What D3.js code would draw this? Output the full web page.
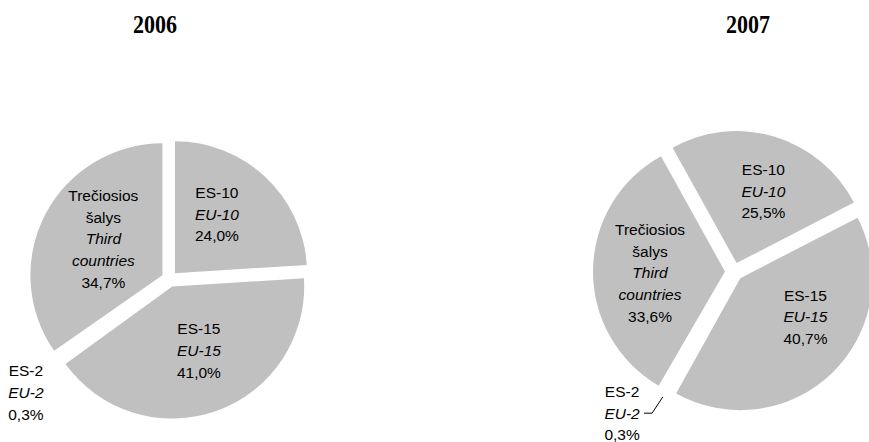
<!DOCTYPE html>
<html>
<head>
<meta charset="utf-8">
<script src="https://cdn.jsdelivr.net/npm/d3@7/dist/d3.min.js"></script>
<style>
  body { margin: 0; background: #fff; }
  .lbl { font-family: "Liberation Sans", Arial, sans-serif; font-size: 15.5px; fill: #000; }
  .title { font-family: "Liberation Serif", "Times New Roman", serif; font-weight: bold; font-size: 25px; fill: #000; }
</style>
</head>
<body>
<div id="chart"></div>
<script>
// data
var years = ["2006", "2007"];
var namesLt = ["ES-10", "ES-15", "ES-2", "Trečiosios šalys"];
var namesEn = ["EU-10", "EU-15", "EU-2", "Third countries"];
var values2006 = [24.0, 41.0, 0.3, 34.7];
var values2007 = [25.5, 40.7, 0.3, 33.6];

var width = 869, height = 442;

var svg = d3.select("#chart").append("svg")
    .attr("width", width)
    .attr("height", height);

var fmt = function(v) { return d3.format(".1f")(v).replace(".", ",") + "%"; };
var rad = Math.PI / 180;

// layout of the two pies (label nudges in px, relative to the mid-angle centroid)
var pies = [
  { year: years[0], values: values2006, cx: 169.5, cy: 279, r: 132, explode: 8, start: 0,
    titleX: 155, labelR: 78, outR: 180,
    nudge: [[-6, -8], [3, -2], [3, 9], [3, -4]], leader: false },
  { year: years[1], values: values2007, cx: 734, cy: 271.7, r: 132, explode: 9, start: -29,
    titleX: 748, labelR: 84, outR: 180,
    nudge: [[5, 0], [13, -15], [-23, -15], [0, 2]], leader: true }
];

var lineH = 21.7;

pies.forEach(function(p) {
  var rows = p.values.map(function(v, i) {
    return { lt: namesLt[i], en: namesEn[i], value: v, i: i };
  });

  var pie = d3.pie()
      .sort(null)
      .value(function(d) { return d.value; })
      .startAngle(p.start * rad)
      .endAngle(p.start * rad + 2 * Math.PI);

  var arc = d3.arc().innerRadius(0).outerRadius(p.r);
  var arcs = pie(rows);

  var g = svg.append("g").attr("transform", "translate(" + p.cx + "," + p.cy + ")");

  function shift(d, k) {
    var m = (d.startAngle + d.endAngle) / 2;
    return [Math.sin(m) * k, -Math.cos(m) * k];
  }

  g.selectAll("path.slice")
    .data(arcs)
    .enter().append("path")
      .attr("class", "slice")
      .attr("d", arc)
      .attr("transform", function(d) { var s = shift(d, p.explode); return "translate(" + s[0] + "," + s[1] + ")"; })
      .attr("fill", function(d) { return d.data.value < 1 ? "#ffffff" : "#c0c0c0"; });

  // title
  svg.append("text")
      .attr("class", "title")
      .attr("x", p.titleX)
      .attr("y", 33)
      .attr("text-anchor", "middle")
      .attr("textLength", 44)
      .attr("lengthAdjust", "spacingAndGlyphs")
      .text(p.year);

  // labels
  arcs.forEach(function(d) {
    var small = d.data.value < 1;
    var R = small ? p.outR : p.labelR;
    var c = d3.arc().innerRadius(R).outerRadius(R).centroid(d);
    var n = p.nudge[d.data.i];
    var x = c[0] + n[0], y = c[1] + n[1];

    var lines = [];
    d.data.lt.split(" ").forEach(function(t) { lines.push({ t: t, it: false }); });
    d.data.en.split(" ").forEach(function(t) { lines.push({ t: t, it: true }); });
    lines.push({ t: fmt(d.data.value), it: false });

    // y is the centre of the label block
    var y0 = y - (lines.length - 1) / 2 * lineH;
    var t = g.append("text").attr("class", "lbl").attr("text-anchor", "middle");
    lines.forEach(function(l, k) {
      t.append("tspan")
        .attr("x", x)
        .attr("y", y0 + k * lineH)
        .attr("dy", "0.35em")
        .attr("font-style", l.it ? "italic" : null)
        .text(l.t);
    });

    if (small && p.leader) {
      var m = (d.startAngle + d.endAngle) / 2;
      var e = shift(d, p.explode);
      var p0 = [e[0] + Math.sin(m) * (p.r + 3), e[1] - Math.cos(m) * (p.r + 3)];
      var line = d3.line();
      g.append("path")
        .attr("d", line([p0, [x + 30, y], [x + 22, y]]))
        .attr("fill", "none")
        .attr("stroke", "#000")
        .attr("stroke-width", 1);
    }
  });
});
</script>
</body>
</html>
